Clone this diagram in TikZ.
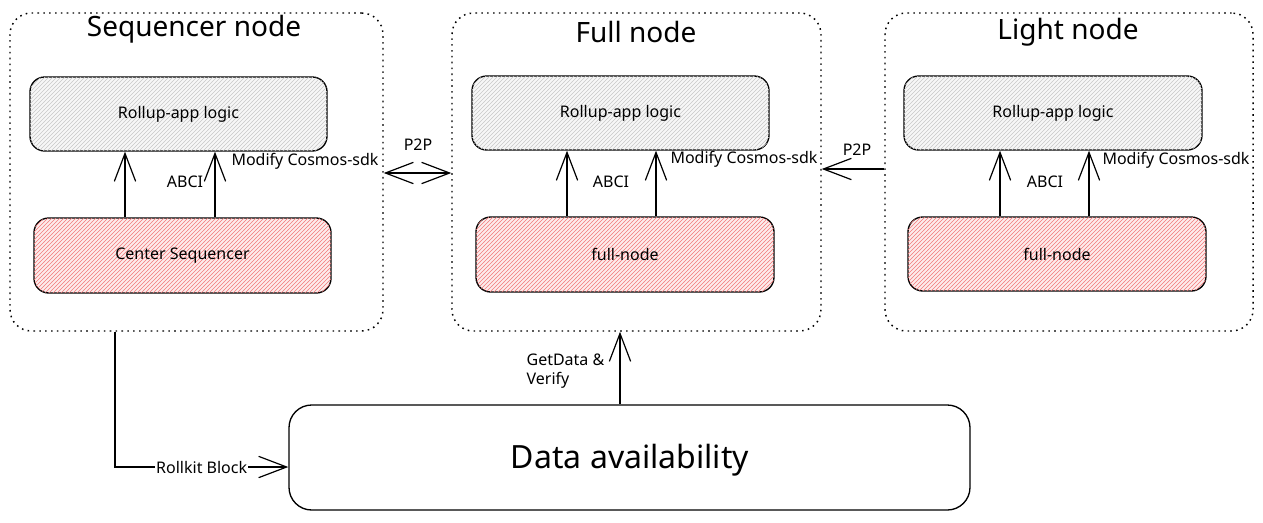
\documentclass[tikz,border=0pt]{standalone}
\usepackage{fontspec}
\setmainfont{Noto Sans}
\usetikzlibrary{patterns,arrows.meta,fit}
\definecolor{hatchred}{HTML}{F27A7A}
\definecolor{fillred}{HTML}{FDECEC}
\definecolor{hatchgray}{HTML}{C8C8C8}
\definecolor{fillgray}{HTML}{F7F7F7}
\begin{document}
\begin{tikzpicture}[x=0.75pt,y=-0.75pt,
  container/.style={draw, line width=1.1pt, dash pattern=on 1.2pt off 3.2pt, rounded corners=16pt, inner sep=0pt},
  appbox/.style={draw, line width=1pt, rounded corners=11pt, inner sep=0pt, fill=fillgray,
    postaction={pattern=north east lines, pattern color=hatchgray}},
  corebox/.style={draw, line width=1pt, rounded corners=11pt, inner sep=0pt, fill=fillred,
    postaction={pattern=north east lines, pattern color=hatchred}},
  dabox/.style={draw, line width=1pt, rounded corners=17pt, inner sep=0pt},
  title/.style={font=\fontsize{21}{25}\selectfont},
  lbl/.style={font=\fontsize{12}{14}\selectfont, inner sep=1pt},
  arr/.style={-{Straight Barb[length=21pt,width=16pt,line width=0.9pt]}, line width=1.1pt},
  arrtwo/.style={{Straight Barb[length=21pt,width=16pt,line width=0.9pt]}-{Straight Barb[length=21pt,width=16pt,line width=0.9pt]}, line width=1.1pt}
]
\useasboundingbox (0,0) rectangle (1263,522);

% containers
\node[container, fit={(10,13) (383,331)}] (seqC) {};
\node[container, fit={(452,13) (821,331)}] (fullC) {};
\node[container, fit={(885,13) (1253,331)}] (lightC) {};

\node[title] (seqT) at (194,29) {Sequencer node};
\node[title] (fullT) at (636,32) {Full node};
\node[title] (lightT) at (1068,32) {Light node};

% inner boxes
\node[appbox, fit={(30,77) (327,151)}] (seqApp) {};
\node[lbl] (seqAppT) at (seqApp.center) {Rollup-app logic};
\node[corebox, fit={(34,218) (331,293)}] (seqCore) {};
\node[lbl] (seqCoreT) at (seqCore.center) {Center Sequencer};

\node[appbox, fit={(472,76) (769,150)}] (fullApp) {};
\node[lbl] (fullAppT) at (fullApp.center) {Rollup-app logic};
\node[corebox, fit={(476,217) (774,292)}] (fullCore) {};
\node[lbl] (fullCoreT) at (fullCore.center) {full-node};

\node[appbox, fit={(904,76) (1202,150)}] (lightApp) {};
\node[lbl] (lightAppT) at (lightApp.center) {Rollup-app logic};
\node[corebox, fit={(908,217) (1206,291)}] (lightCore) {};
\node[lbl] (lightCoreT) at (lightCore.center) {full-node};

\node[dabox, fit={(289,405) (970,510)}] (da) {};
\node[font=\fontsize{24}{28}\selectfont] (daT) at (630,460) {Data availability};

% x positions of arrows
\coordinate (xs1) at (125,0);
\coordinate (xs2) at (215,0);
\coordinate (xf1) at (567,0);
\coordinate (xf2) at (656,0);
\coordinate (xl1) at (1000,0);
\coordinate (xl2) at (1089,0);

\draw[arr] (seqCore.north -| xs1) -- (seqApp.south -| xs1);
\draw[arr] (seqCore.north -| xs2) -- (seqApp.south -| xs2);
\draw[arr] (fullCore.north -| xf1) -- (fullApp.south -| xf1);
\draw[arr] (fullCore.north -| xf2) -- (fullApp.south -| xf2);
\draw[arr] (lightCore.north -| xl1) -- (lightApp.south -| xl1);
\draw[arr] (lightCore.north -| xl2) -- (lightApp.south -| xl2);

\node[lbl] (abci1) at (185,182) {ABCI};
\node[lbl] (abci2) at (611,182) {ABCI};
\node[lbl] (abci3) at (1045,182) {ABCI};

\node[lbl] (mod1) at (305,161) {Modify Cosmos-sdk};
\node[lbl] (mod2) at (744,159) {Modify Cosmos-sdk};
\node[lbl] (mod3) at (1176,160) {Modify Cosmos-sdk};

% P2P
\coordinate (py1) at (0,173);
\coordinate (py2) at (0,169);
\draw[arrtwo] (seqC.east |- py1) -- (fullC.west |- py1);
\node[lbl] (p2p1) at (418,145) {P2P};
\draw[arr] (lightC.west |- py2) -- (fullC.east |- py2);
\node[lbl] (p2p2) at (857,150) {P2P};

% Rollkit block
\coordinate (xr) at (115,0);
\coordinate (ry) at (0,467);
\draw[arr] (seqC.south -| xr) |- (da.west |- ry)
  node[pos=0.75, lbl, fill=white] (rk) {Rollkit Block};

% GetData & Verify
\coordinate (xg) at (620,0);
\draw[arr] (da.north -| xg) -- (fullC.south -| xg);
\node[lbl, align=left, anchor=west] (gd) at (525,371) {GetData \&\\Verify};
\end{tikzpicture}
\end{document}
